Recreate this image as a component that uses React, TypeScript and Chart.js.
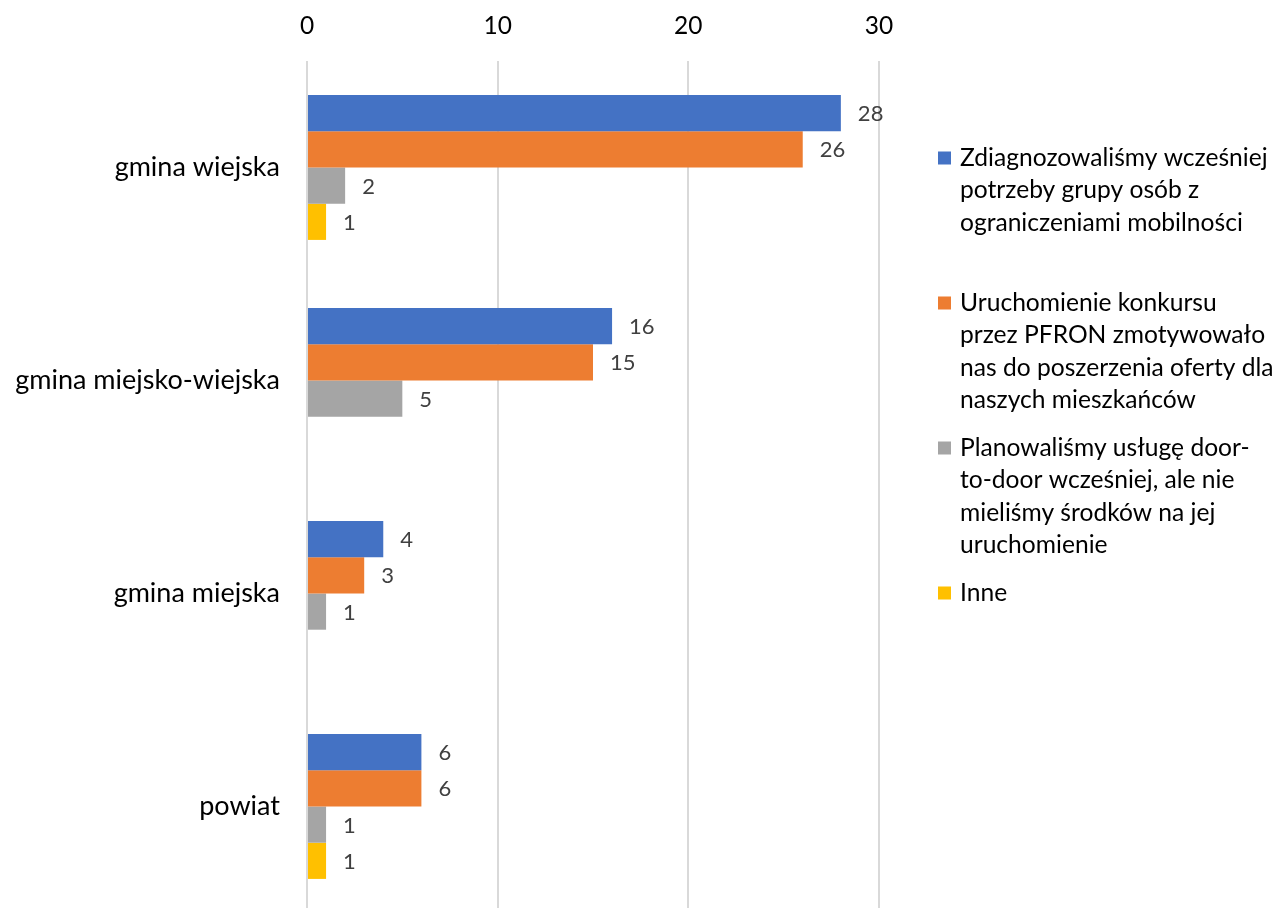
import React, { useEffect, useRef } from "react";
import { Chart, registerables } from "chart.js";

Chart.register(...registerables);

// Categories (types of local authority)
const categories = ["gmina wiejska", "gmina miejsko-wiejska", "gmina miejska", "powiat"];

// Series values, one array per answer
const diagnosedEarlier = [28, 16, 4, 6];
const contestMotivated = [26, 15, 3, 6];
const plannedNoFunds = [2, 5, 1, 1];
const otherAnswers = [1, null, null, 1];

// Series names and their wrapped legend lines
const seriesNames = [
  "Zdiagnozowaliśmy wcześniej potrzeby grupy osób z ograniczeniami mobilności",
  "Uruchomienie konkursu przez PFRON zmotywowało nas do poszerzenia oferty dla naszych mieszkańców",
  "Planowaliśmy usługę door-to-door wcześniej, ale nie mieliśmy środków na jej uruchomienie",
  "Inne",
];
const legendLines = [
  ["Zdiagnozowaliśmy wcześniej", "potrzeby grupy osób z", "ograniczeniami mobilności"],
  ["Uruchomienie konkursu", "przez PFRON zmotywowało", "nas do poszerzenia oferty dla", "naszych mieszkańców"],
  ["Planowaliśmy usługę door-", "to-door wcześniej, ale nie", "mieliśmy środków na jej", "uruchomienie"],
  ["Inne"],
];

// Value axis ticks
const xTicks = [0, 10, 20, 30];

const seriesColors = ["#4472C4", "#ED7D31", "#A5A5A5", "#FFC000"];
const FONT = "Lato, 'Noto Sans', sans-serif";

// Value labels to the right of each bar
const valueLabels = {
  id: "valueLabels",
  afterDatasetsDraw(chart: any) {
    const ctx = chart.ctx;
    ctx.save();
    ctx.font = `22px ${FONT}`;
    ctx.fillStyle = "#404040";
    ctx.textAlign = "left";
    ctx.textBaseline = "middle";
    chart.data.datasets.forEach((ds: any, di: number) => {
      const meta = chart.getDatasetMeta(di);
      meta.data.forEach((el: any, i: number) => {
        const v = ds.data[i];
        if (v === null || v === undefined) return;
        ctx.fillText(String(v), el.x + 17, el.y + 1);
      });
    });
    ctx.restore();
  },
};

// Legend on the right with wrapped entries of equal height
const sideLegend = {
  id: "sideLegend",
  afterDraw(chart: any) {
    const ctx = chart.ctx;
    ctx.save();
    ctx.font = `24.6px ${FONT}`;
    ctx.textAlign = "left";
    ctx.textBaseline = "middle";
    const markerX = 938;
    const textX = 960;
    const firstY = 158;
    const entryStep = 145;
    const lineStep = 32.3;
    legendLines.forEach((lines, i) => {
      const y0 = firstY + i * entryStep;
      ctx.fillStyle = seriesColors[i];
      ctx.fillRect(markerX, y0 - 6.5, 13, 13);
      ctx.fillStyle = "#000000";
      lines.forEach((line, j) => {
        ctx.fillText(line, textX, y0 + j * lineStep);
      });
    });
    ctx.restore();
  },
};

export default function App() {
  const canvasRef = useRef<HTMLCanvasElement | null>(null);

  useEffect(() => {
    document.documentElement.style.overflow = "hidden";
    document.body.style.margin = "0";
    document.body.style.overflow = "hidden";
    const canvas = canvasRef.current;
    if (!canvas) return;
    const series = [diagnosedEarlier, contestMotivated, plannedNoFunds, otherAnswers];
    const chart = new Chart(canvas, {
      type: "bar",
      data: {
        labels: categories,
        datasets: series.map((values, i) => ({
          label: seriesNames[i],
          data: values,
          backgroundColor: seriesColors[i],
          borderWidth: 0,
          barPercentage: 1,
          categoryPercentage: 0.68,
        })),
      },
      options: {
        indexAxis: "y",
        responsive: false,
        animation: false,
        layout: { padding: { left: 0, right: 400, top: 0, bottom: 1 } },
        plugins: {
          legend: { display: false },
          tooltip: { enabled: false },
        },
        scales: {
          x: {
            type: "linear",
            position: "top",
            min: 0,
            max: 30,
            afterBuildTicks: (scale: any) => {
              scale.ticks = xTicks.map((v) => ({ value: v }));
            },
            afterFit: (scale: any) => {
              scale.height = 61;
            },
            grid: { color: "#d9d9d9", lineWidth: 2, drawTicks: false },
            border: { display: false },
            ticks: {
              color: "#000000",
              font: { family: FONT, size: 24.5 },
              padding: 20,
            },
          },
          y: {
            type: "category",
            afterFit: (scale: any) => {
              scale.width = 307;
              scale.paddingTop = 0;
              scale.paddingBottom = 0;
            },
            grid: { display: false, drawTicks: false },
            border: { display: false },
            ticks: {
              color: "#000000",
              font: { family: FONT, size: 27 },
              padding: 27,
            },
          },
        },
      },
      plugins: [valueLabels, sideLegend],
    } as any);
    return () => chart.destroy();
  }, []);

  return (
    <div style={{ width: 1279, height: 914, background: "#ffffff" }}>
      <canvas ref={canvasRef} width={1279} height={914} style={{ display: "block" }} />
    </div>
  );
}
